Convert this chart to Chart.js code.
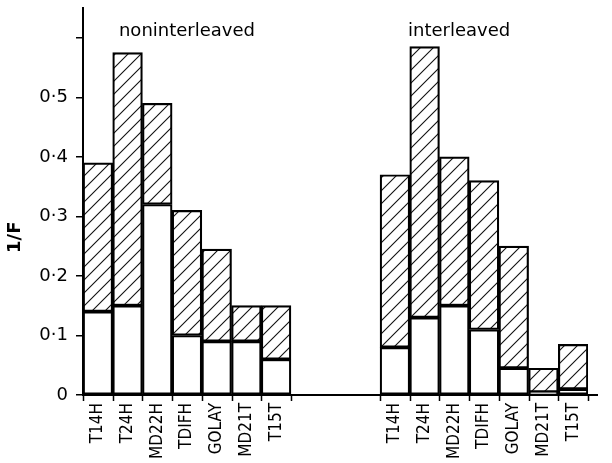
<!DOCTYPE html>
<html><head><meta charset="utf-8">
<script src="https://cdn.jsdelivr.net/npm/chart.js@4/dist/chart.umd.min.js"></script>
<style>html,body{margin:0;padding:0;background:#fff;}canvas{display:block;}</style>
</head><body>
<canvas id="c" width="612" height="463"></canvas>
<script>
const codes = ['T14H','T24H','MD22H','TDIFH','GOLAY','MD21T','T15T'];
const gapLabels = ['', '', ''];
const nonLower = [0.14, 0.15, 0.32, 0.10, 0.09, 0.09, 0.06];
const nonTotal = [0.39, 0.575, 0.49, 0.31, 0.245, 0.15, 0.15];
const intLower = [0.08, 0.13, 0.15, 0.11, 0.045, 0.005, 0.01];
const intTotal = [0.37, 0.585, 0.40, 0.36, 0.25, 0.045, 0.085];
const yTicks = [0, 0.1, 0.2, 0.3, 0.4, 0.5, 0.6];
const groupTitles = ['noninterleaved', 'interleaved'];
const yTitle = '1/F';

const labels = [...codes, ...gapLabels, ...codes];
const gapNull = gapLabels.map(() => null);
const lowerData = [...nonLower, ...gapNull, ...intLower];
const upperData = [...nonTotal.map((t,i)=>+(t-nonLower[i]).toFixed(4)), ...gapNull, ...intTotal.map((t,i)=>+(t-intLower[i]).toFixed(4))];

function hatch(){
  const s = 13, c = document.createElement('canvas');
  c.width = s; c.height = s;
  const g = c.getContext('2d');
  g.fillStyle = '#fff'; g.fillRect(0,0,s,s);
  g.strokeStyle = '#111'; g.lineWidth = 1.1;
  g.beginPath();
  g.moveTo(0, s); g.lineTo(s, 0);
  g.moveTo(-2, 2); g.lineTo(2, -2);
  g.moveTo(s-2, s+2); g.lineTo(s+2, s-2);
  g.stroke();
  return g.createPattern(c, 'repeat');
}

const gapIdx = new Set([codes.length+1, codes.length+2]);

const extras = {
  id: 'extras',
  afterDraw(chart){
    const ctx = chart.ctx, x = chart.scales.x, y = chart.scales.y, a = chart.chartArea;
    ctx.save();
    ctx.strokeStyle = '#000'; ctx.lineWidth = 2;
    ctx.beginPath();
    const y0 = y.getPixelForValue(0);
    ctx.moveTo(a.right - 1, y0); ctx.lineTo(a.right + 10, y0);
    ctx.stroke();
    // category-boundary tick marks below the axis
    const half = (x.getPixelForValue(1) - x.getPixelForValue(0)) / 2;
    ctx.lineWidth = 1.5;
    ctx.beginPath();
    for (let i = 0; i <= labels.length; i++) {
      if (gapIdx.has(i)) continue;
      const px = Math.round(x.getPixelForValue(i) - half) + 0.5;
      ctx.moveTo(px, y0); ctx.lineTo(px, y0 + 6);
    }
    ctx.stroke();
    ctx.fillStyle = '#000';
    ctx.font = '18px "DejaVu Sans"';
    ctx.textAlign = 'center'; ctx.textBaseline = 'middle';
    const ty = y.getPixelForValue(0.61);
    ctx.fillText(groupTitles[0], x.getPixelForValue(3), ty);
    ctx.fillText(groupTitles[1], (x.getPixelForValue(12) + x.getPixelForValue(13)) / 2 - 10, ty);
    ctx.save();
    ctx.translate(15, y.getPixelForValue(0.265));
    ctx.rotate(-Math.PI/2);
    ctx.font = 'bold 18px "DejaVu Sans"';
    ctx.fillText(yTitle, 0, 0);
    ctx.restore();
    ctx.restore();
  }
};

new Chart(document.getElementById('c'), {
  type: 'bar',
  data: {
    labels,
    datasets: [
      { data: lowerData, backgroundColor: '#fff', borderColor: '#000', borderWidth: 2.2, borderSkipped: false },
      { data: upperData, backgroundColor: hatch(), borderColor: '#000', borderWidth: 2.2, borderSkipped: false }
    ]
  },
  options: {
    responsive: false,
    animation: false,
    events: [],
    layout: { padding: { left: 0, right: 24, top: 8, bottom: 0 } },
    plugins: { legend: { display: false }, tooltip: { enabled: false } },
    datasets: { bar: { barPercentage: 1, categoryPercentage: 1 } },
    scales: {
      x: {
        stacked: true,
        offset: true,
        border: { display: true, color: '#000', width: 2 },
        grid: { drawOnChartArea: false, tickLength: 6, color: 'rgba(0,0,0,0)' },
        ticks: {
          autoSkip: false, minRotation: 90, maxRotation: 90, padding: 2,
          color: '#000', font: { family: '"DejaVu Sans Condensed", "DejaVu Sans"', size: 17 }
        },
        afterFit(s){ s.height = 68; s.paddingLeft = 0; s.paddingRight = 0; }
      },
      y: {
        stacked: true,
        min: 0, max: 0.65,
        border: { display: true, color: '#000', width: 2 },
        grid: { drawOnChartArea: false, tickLength: 7, lineWidth: 1.5, color: '#000', tickColor: '#000' },
        afterBuildTicks(s){ s.ticks = yTicks.map(v => ({ value: v })); },
        ticks: {
          padding: 8, color: '#000', font: { family: '"DejaVu Sans"', size: 18 },
          callback: v => (v === 0 ? '0' : (v >= 0.55 ? '' : v.toFixed(1).replace('.', '\u00B7')))
        },
        afterFit(s){ s.width = 83; s.paddingTop = 0; s.paddingBottom = 0; }
      }
    }
  },
  plugins: [extras]
});
</script>
</body></html>
